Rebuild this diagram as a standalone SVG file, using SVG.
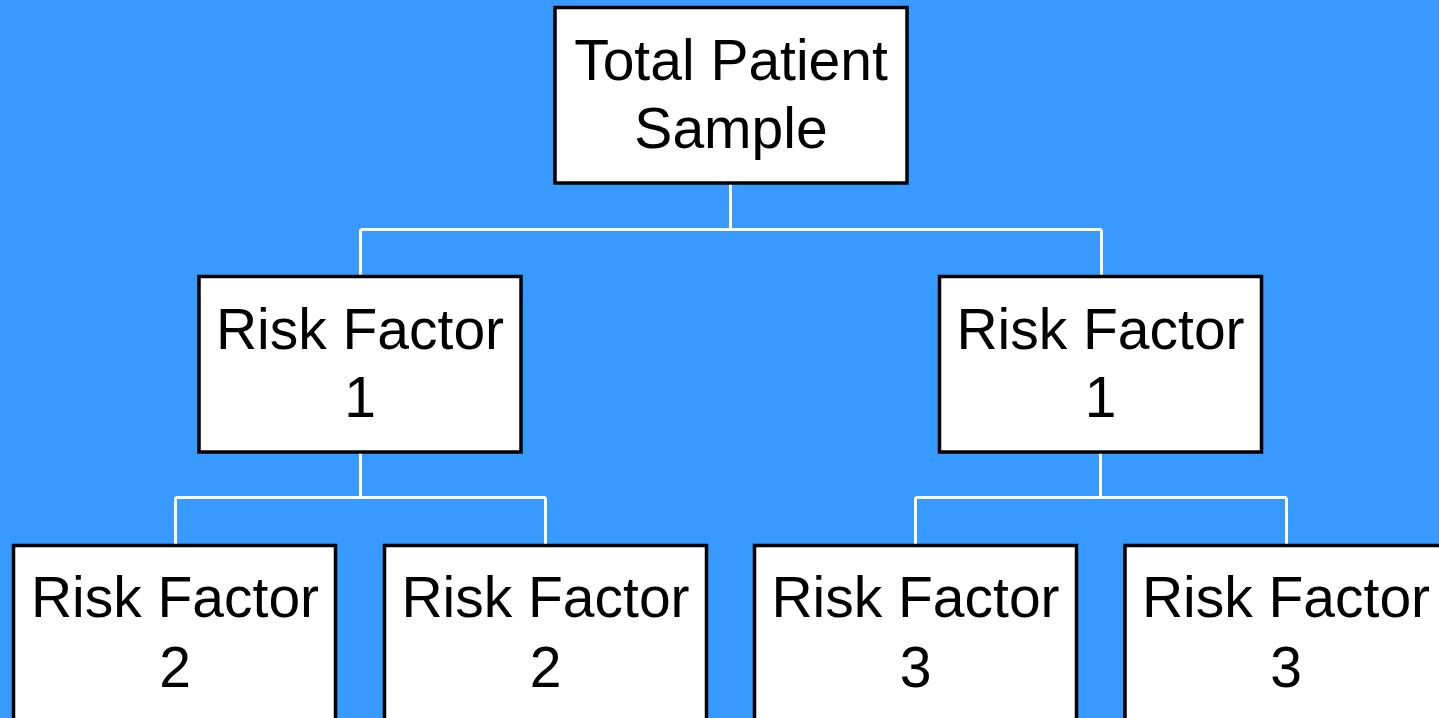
<svg xmlns="http://www.w3.org/2000/svg" width="1439" height="718" viewBox="0 0 1439 718">
<style>
.box{fill:#fff;stroke:#000;stroke-width:3.5}
.lbl{font-family:"Liberation Sans",Arial,sans-serif;font-size:57px;fill:#000;text-anchor:middle}
.con{fill:none;stroke:#fff;stroke-width:3}
</style>
<rect width="1439" height="718" fill="#3899ff"/>
<g id="connectors">
<path class="con" d="M730.5,183 V229.5 M360.5,229.5 H1101.5 M360.5,229.5 V276 M1101.5,229.5 V276"/>
<path class="con" d="M360.5,452 V497.5 M175.5,497.5 H545.5 M175.5,497.5 V545 M545.5,497.5 V545"/>
<path class="con" d="M1100.5,452 V497.5 M915.5,497.5 H1286.5 M915.5,497.5 V545 M1286.5,497.5 V545"/>
</g>
<g id="root">
<rect class="box" x="555" y="7.5" width="352" height="175.5"/>
<text class="lbl" x="731" y="80">Total Patient</text>
<text class="lbl" x="731" y="148">Sample</text>
</g>
<g id="rf1a">
<rect class="box" x="199" y="276.5" width="322" height="175.5"/>
<text class="lbl" x="360" y="349">Risk Factor</text>
<text class="lbl" x="360" y="417">1</text>
</g>
<g id="rf1b">
<rect class="box" x="939.5" y="276.5" width="322" height="175.5"/>
<text class="lbl" x="1100.5" y="349">Risk Factor</text>
<text class="lbl" x="1100.5" y="417">1</text>
</g>
<g id="rf2a">
<rect class="box" x="13.5" y="545.5" width="322" height="190"/>
<text class="lbl" x="175" y="617">Risk Factor</text>
<text class="lbl" x="175" y="687">2</text>
</g>
<g id="rf2b">
<rect class="box" x="384.5" y="545.5" width="322" height="190"/>
<text class="lbl" x="545.5" y="617">Risk Factor</text>
<text class="lbl" x="545.5" y="687">2</text>
</g>
<g id="rf3a">
<rect class="box" x="754.5" y="545.5" width="322" height="190"/>
<text class="lbl" x="915.5" y="617">Risk Factor</text>
<text class="lbl" x="915.5" y="687">3</text>
</g>
<g id="rf3b">
<rect class="box" x="1125" y="545.5" width="330" height="190"/>
<text class="lbl" x="1286" y="617">Risk Factor</text>
<text class="lbl" x="1286" y="687">3</text>
</g>
</svg>
